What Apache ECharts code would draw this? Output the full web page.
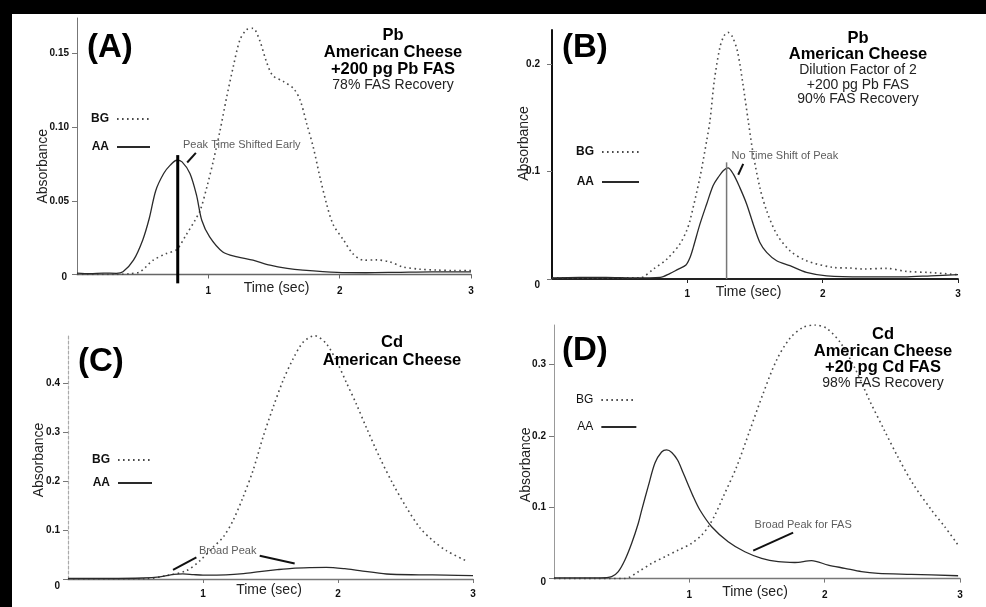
<!DOCTYPE html>
<html><head><meta charset="utf-8">
<script src="https://cdn.jsdelivr.net/npm/echarts@6/dist/echarts.min.js"></script>
<style>html,body{margin:0;padding:0;background:#fff;overflow:hidden}#c{width:986px;height:607px}</style>
</head><body><div id="c"></div>
<script>
const FONT = '"Liberation Sans", Arial, Helvetica, sans-serif';

// ---------- Panel A : Pb, American Cheese, +200 pg Pb FAS ----------
const timeA_BG = [0, 0.3, 0.4, 0.48, 0.58, 0.68, 0.76, 0.83, 0.9, 0.94, 0.99, 1.04, 1.09, 1.14, 1.19, 1.24, 1.29, 1.34, 1.39, 1.44, 1.49, 1.57, 1.65, 1.7, 1.75, 1.8, 1.85, 1.9, 1.95, 2.03, 2.1, 2.18, 2.28, 2.38, 2.48, 2.61, 2.74, 2.87, 3.0];
const absA_BG  = [0, 0, 0.0005, 0.0018, 0.0097, 0.0142, 0.017, 0.0267, 0.037, 0.044, 0.0597, 0.0778, 0.098, 0.1205, 0.141, 0.159, 0.166, 0.167, 0.159, 0.145, 0.135, 0.131, 0.126, 0.118, 0.102, 0.086, 0.066, 0.048, 0.034, 0.0233, 0.0142, 0.0097, 0.0099, 0.0086, 0.0052, 0.0036, 0.003, 0.0027, 0.0027];
const timeA_AA = [0, 0.1, 0.2, 0.3, 0.35, 0.43, 0.5, 0.55, 0.6, 0.66, 0.71, 0.76, 0.8, 0.86, 0.91, 0.95, 1.01, 1.11, 1.22, 1.34, 1.47, 1.6, 1.72, 1.98, 2.2, 2.45, 2.7, 3.0];
const absA_AA  = [0.001, 0.0006, 0.001, 0.0008, 0.0018, 0.0097, 0.0233, 0.038, 0.057, 0.0685, 0.0742, 0.0775, 0.0764, 0.0685, 0.0538, 0.0368, 0.0255, 0.0153, 0.012, 0.0097, 0.0063, 0.0041, 0.0029, 0.0014, 0.0012, 0.0015, 0.0018, 0.0018];
const markerA  = [[0.767, 0.081], [0.767, -0.006]];
const pointerA = [[[0.839, 0.076], [0.905, 0.0825]]];
const noteA    = {text: 'Peak Time Shifted Early', at: [1.255, 0.0877]};
const yTicksA  = [0, 0.05, 0.10, 0.15];
const yLabelsA = ['0', '0.05', '0.10', '0.15'];
const titleA   = [['Pb', 'bold'], ['American Cheese', 'bold'], ['+200 pg Pb FAS', 'bold'], ['78% FAS Recovery', 'normal']];

// ---------- Panel B : Pb, dilution factor 2 ----------
const timeB_BG = [0, 0.3, 0.5, 0.65, 0.75, 0.85, 0.945, 0.995, 1.019, 1.093, 1.143, 1.167, 1.2, 1.24, 1.27, 1.30, 1.33, 1.37, 1.41, 1.45, 1.487, 1.536, 1.586, 1.66, 1.758, 1.88, 2.078, 2.2, 2.3, 2.47, 2.62, 2.79, 3.0];
const absB_BG  = [0.001, 0.001, 0.001, 0.001, 0.0093, 0.0186, 0.0326, 0.045, 0.054, 0.0945, 0.1287, 0.147, 0.185, 0.215, 0.226, 0.2294, 0.226, 0.212, 0.182, 0.147, 0.116, 0.085, 0.0635, 0.0419, 0.0263, 0.017, 0.0108, 0.0102, 0.0093, 0.0099, 0.0071, 0.006, 0.004];
const timeB_AA = [0, 0.2, 0.4, 0.6, 0.8, 0.87, 0.93, 0.99, 1.02, 1.044, 1.093, 1.143, 1.19, 1.228, 1.265, 1.30, 1.339, 1.388, 1.438, 1.487, 1.536, 1.586, 1.66, 1.758, 1.88, 2.03, 2.3, 2.6, 2.8, 3.0];
const absB_AA  = [0.001, 0.0015, 0.0015, 0.001, 0.0015, 0.005, 0.009, 0.013, 0.02, 0.0294, 0.051, 0.0698, 0.0868, 0.0945, 0.1007, 0.1033, 0.0977, 0.085, 0.0698, 0.051, 0.034, 0.0248, 0.017, 0.0124, 0.0062, 0.003, 0.002, 0.002, 0.003, 0.004];
const markerB  = [[1.29, 0.1085], [1.29, 0]];
const pointerB = [[[1.376, 0.097], [1.413, 0.1071]]];
const noteB    = {text: 'No Time Shift of Peak', at: [1.721, 0.1147]};
const yTicksB  = [0, 0.1, 0.2];
const yLabelsB = ['0', '0.1', '0.2'];
const titleB   = [['Pb', 'bold'], ['American Cheese', 'bold'], ['Dilution Factor of 2', 'normal'], ['+200 pg Pb FAS', 'normal'], ['90% FAS Recovery', 'normal']];

// ---------- Panel C : Cd, American Cheese ----------
const timeC_BG = [0, 0.3, 0.556, 0.729, 0.877, 0.976, 1.074, 1.148, 1.222, 1.296, 1.37, 1.444, 1.519, 1.593, 1.667, 1.741, 1.827, 1.914, 1.988, 2.062, 2.136, 2.21, 2.309, 2.407, 2.507, 2.605, 2.704, 2.803, 2.95];
const absC_BG  = [0, 0, 0, 0.0068, 0.017, 0.037, 0.0646, 0.085, 0.119, 0.1666, 0.221, 0.289, 0.35, 0.405, 0.449, 0.483, 0.4966, 0.48, 0.4455, 0.401, 0.357, 0.309, 0.248, 0.194, 0.146, 0.105, 0.078, 0.0578, 0.037];
const timeC_AA = [0, 0.3, 0.556, 0.68, 0.78, 0.85, 0.93, 1.0, 1.17, 1.3, 1.42, 1.55, 1.66, 1.8, 1.914, 2.05, 2.16, 2.36, 2.6, 2.8, 3.0];
const absC_AA  = [0.001, 0.001, 0.002, 0.0045, 0.0095, 0.0105, 0.009, 0.008, 0.0085, 0.011, 0.015, 0.019, 0.0218, 0.0232, 0.0237, 0.021, 0.017, 0.0102, 0.0085, 0.008, 0.007];
const pointerC = [[[0.778, 0.0184], [0.951, 0.044]], [[1.42, 0.0476], [1.679, 0.0318]]];
const noteC    = {text: 'Broad Peak', at: [1.183, 0.0563]};
const yTicksC  = [0, 0.1, 0.2, 0.3, 0.4];
const yLabelsC = ['0', '0.1', '0.2', '0.3', '0.4'];
const titleC   = [['Cd', 'bold'], ['American Cheese', 'bold']];

// ---------- Panel D : Cd, American Cheese, +20 pg Cd FAS ----------
const timeD_BG = [0, 0.3, 0.524, 0.623, 0.722, 0.82, 0.918, 1.017, 1.091, 1.14, 1.189, 1.251, 1.35, 1.448, 1.546, 1.645, 1.743, 1.841, 1.928, 2.014, 2.12, 2.23, 2.33, 2.44, 2.54, 2.65, 2.789, 2.887, 2.986];
const absD_BG  = [0, 0, 0, 0.0097, 0.0214, 0.0307, 0.040, 0.0495, 0.061, 0.0728, 0.089, 0.115, 0.157, 0.2084, 0.26, 0.3066, 0.337, 0.3525, 0.3557, 0.351, 0.33, 0.2926, 0.2505, 0.2084, 0.171, 0.1337, 0.0962, 0.0728, 0.047];
const timeD_AA = [0, 0.2, 0.34, 0.426, 0.475, 0.524, 0.574, 0.623, 0.648, 0.697, 0.746, 0.795, 0.832, 0.87, 0.914, 0.955, 1.029, 1.078, 1.165, 1.287, 1.41, 1.534, 1.657, 1.78, 1.903, 2.026, 2.149, 2.272, 2.395, 2.64, 2.986];
const absD_AA  = [0.001, 0.001, 0.001, 0.0027, 0.0097, 0.026, 0.0495, 0.0776, 0.096, 0.13, 0.162, 0.1775, 0.1805, 0.177, 0.166, 0.148, 0.115, 0.0962, 0.0728, 0.0518, 0.0377, 0.0285, 0.0237, 0.0226, 0.0251, 0.019, 0.0144, 0.0097, 0.0074, 0.006, 0.004];
const pointerD = [[[1.472, 0.0393], [1.767, 0.0646]]];
const noteD    = {text: 'Broad Peak for FAS', at: [1.841, 0.0747]};
const yTicksD  = [0, 0.1, 0.2, 0.3];
const yLabelsD = ['0', '0.1', '0.2', '0.3'];
const titleD   = [['Cd', 'bold'], ['American Cheese', 'bold'], ['+20 pg Cd FAS', 'bold'], ['98% FAS Recovery', 'normal']];

// shared axis ticks
const xTicks = [1, 2, 3];
const xLabels = ['1', '2', '3'];
const seriesNames = ['BG', 'AA'];

// ---------- layout / style per panel ----------
const panels = [
  {letter: '(A)', grid: {left: 77, top: 18, width: 394, height: 256.5}, yMax: 0.174,
   bg: [timeA_BG, absA_BG], aa: [timeA_AA, absA_AA], marker: markerA, markerStyle: {color: '#000', width: 3},
   pointers: pointerA, note: noteA, yTicks: yTicksA, yLabels: yLabelsA, title: titleA,
   titleX: 393, titleY: [35, 52.5, 69, 85], letterPos: [87, 50], zeroPad: [5, 2, 0, 0],
   yAxisLine: {color: '#777', width: 1}, xAxisLine: {color: '#666', width: 1.3},
   yLabelMargin: 8, xLabelMargin: 12, yNameGap: 27, yNamePad: [0, 40, 0, 0], xNameGap: 7, xNamePad: [0, 0, 0, 5],
   legend: {left: 91, top: 113, itemGap: 16, itemWidth: 33, weight: 'bold'}},
  {letter: '(B)', grid: {left: 552, top: 30, width: 406, height: 249}, yMax: 0.2316,
   bg: [timeB_BG, absB_BG], aa: [timeB_AA, absB_AA], marker: markerB, markerStyle: {color: '#777', width: 1.5},
   pointers: pointerB, note: noteB, yTicks: yTicksB, yLabels: yLabelsB, title: titleB,
   titleX: 858, titleY: [38, 54.5, 70.5, 85, 99.5], letterPos: [562, 50], zeroPad: [13, 0, 0, 0],
   yAxisLine: {color: '#111', width: 2}, xAxisLine: {color: '#222', width: 1.8},
   yLabelMargin: 12, xLabelMargin: 10, yNameGap: 21, yNamePad: [0, 0, 0, 22], xNameGap: 6, xNamePad: [0, 13, 0, 0],
   legend: {left: 576, top: 146, itemGap: 18, itemWidth: 37, weight: 'bold'}},
  {letter: '(C)', grid: {left: 68, top: 334, width: 405, height: 245}, yMax: 0.5,
   bg: [timeC_BG, absC_BG], aa: [timeC_AA, absC_AA], marker: null,
   pointers: pointerC, note: noteC, yTicks: yTicksC, yLabels: yLabelsC, title: titleC,
   titleX: 392, titleY: [342.5, 360], letterPos: [78, 364], zeroPad: [14, 0, 0, 0],
   yAxisLine: {color: '#aaa', width: 1.2, type: [3, 2]}, xAxisLine: {color: '#777', width: 1.3},
   yLabelMargin: 8, xLabelMargin: 10, yNameGap: 22, yNamePad: [0, 7, 0, 0], xNameGap: 4, xNamePad: [0, 3, 0, 0],
   legend: {left: 92, top: 454, itemGap: 11, itemWidth: 34, weight: 'bold'}},
  {letter: '(D)', grid: {left: 554, top: 325, width: 406, height: 253.6}, yMax: 0.3557,
   bg: [timeD_BG, absD_BG], aa: [timeD_AA, absD_AA], marker: null,
   pointers: pointerD, note: noteD, yTicks: yTicksD, yLabels: yLabelsD, title: titleD,
   titleX: 883, titleY: [334.5, 351, 367.5, 383.5], letterPos: [562, 353], zeroPad: [8, 0, 0, 0],
   yAxisLine: {color: '#999', width: 1}, xAxisLine: {color: '#777', width: 1.3},
   yLabelMargin: 8, xLabelMargin: 12, yNameGap: 21, yNamePad: [0, 26, 0, 0], xNameGap: 7, xNamePad: [0, 4, 0, 0],
   legend: {left: 576, top: 394, itemGap: 15, itemWidth: 35, weight: 'normal'}}
];

const zip = (t, v) => t.map((x, i) => [x, v[i]]);

const grids = [], xAxes = [], yAxes = [], series = [], legends = [], graphics = [];

// frame (black border at top and left of the original figure)
graphics.push({type: 'rect', shape: {x: 0, y: 0, width: 986, height: 14}, style: {fill: '#000'}, z: 100});
graphics.push({type: 'rect', shape: {x: 0, y: 0, width: 12, height: 607}, style: {fill: '#000'}, z: 100});

panels.forEach((p, i) => {
  grids.push(Object.assign({containLabel: false, outerBoundsMode: 'none'}, p.grid));
  xAxes.push({
    type: 'value', gridIndex: i, min: 0, max: 3, interval: 1,
    name: 'Time (sec)', nameLocation: 'middle', nameGap: p.xNameGap, nameMoveOverlap: false,
    nameTextStyle: {fontFamily: FONT, fontSize: 14, color: '#222', padding: p.xNamePad, verticalAlign: 'top'},
    axisLine: {show: true, onZero: false, lineStyle: p.xAxisLine},
    axisTick: {show: true, length: 4, customValues: xTicks, lineStyle: {color: p.xAxisLine.color, width: 1}},
    axisLabel: {customValues: xTicks, margin: p.xLabelMargin, fontFamily: FONT, fontSize: 10, fontWeight: 'bold', color: '#111',
      formatter: v => { const k = xTicks.indexOf(Math.round(v * 1000) / 1000); return k >= 0 ? xLabels[k] : ''; }},
    splitLine: {show: false}
  });
  yAxes.push({
    type: 'value', gridIndex: i, min: 0, max: p.yMax, interval: p.yTicks[1],
    name: 'Absorbance', nameLocation: 'middle', nameGap: p.yNameGap, nameRotate: 90, nameMoveOverlap: false,
    nameTextStyle: {fontFamily: FONT, fontSize: 14, color: '#222', padding: p.yNamePad},
    axisLine: {show: true, onZero: false, lineStyle: p.yAxisLine},
    axisTick: {show: true, length: 5, customValues: p.yTicks, lineStyle: {color: '#777', width: 1}},
    axisLabel: {customValues: p.yTicks, margin: p.yLabelMargin, fontFamily: FONT, fontSize: 10, fontWeight: 'bold', color: '#111',
      rich: {z: {fontFamily: FONT, fontSize: 10, fontWeight: 'bold', color: '#111', padding: p.zeroPad}},
      formatter: v => {
        const k = p.yTicks.findIndex(t => Math.abs(t - v) < 1e-6);
        if (k < 0) return '';
        return k === 0 ? '{z|' + p.yLabels[0] + '}' : p.yLabels[k];
      }},
    splitLine: {show: false}
  });

  series.push({
    name: 'BG', type: 'line', xAxisIndex: i, yAxisIndex: i, data: zip(p.bg[0], p.bg[1]),
    smooth: 0.3, symbol: 'none', silent: true, z: 3,
    itemStyle: {color: '#4a4a4a'},
    lineStyle: {color: '#4a4a4a', width: 1.6, type: [1.6, 3.4]}
  });
  series.push({
    name: 'AA', type: 'line', xAxisIndex: i, yAxisIndex: i, data: zip(p.aa[0], p.aa[1]),
    smooth: 0.3, symbol: 'none', silent: true, z: 4,
    itemStyle: {color: '#2a2a2a'},
    lineStyle: {color: '#2a2a2a', width: 1.3}
  });
  if (p.marker) {
    series.push({
      name: 'peak-marker', type: 'line', xAxisIndex: i, yAxisIndex: i, data: p.marker,
      symbol: 'none', silent: true, clip: false, z: 5, lineStyle: {color: p.markerStyle.color, width: p.markerStyle.width}
    });
  }
  p.pointers.forEach(seg => {
    series.push({
      name: 'pointer', type: 'line', xAxisIndex: i, yAxisIndex: i, data: seg,
      symbol: 'none', silent: true, clip: false, z: 5, lineStyle: {color: '#111', width: 2}
    });
  });
  series.push({
    name: 'note', type: 'scatter', xAxisIndex: i, yAxisIndex: i, data: [p.note.at],
    symbolSize: 1, itemStyle: {color: 'rgba(0,0,0,0)'}, silent: true, z: 6,
    label: {show: true, position: 'inside', formatter: p.note.text, fontFamily: FONT, fontSize: 11, color: '#333'}
  });

  legends.push({
    data: seriesNames, orient: 'vertical', left: p.legend.left, top: p.legend.top,
    itemWidth: p.legend.itemWidth, itemHeight: 10, itemGap: p.legend.itemGap, align: 'right',
    padding: 0, selectedMode: false,
    itemStyle: {opacity: 0, borderWidth: 0},
    textStyle: {fontFamily: FONT, fontSize: 12, fontWeight: p.legend.weight, color: '#111', padding: [0, 3, 0, 0]}
  });

  // panel letter
  graphics.push({type: 'text', left: p.letterPos[0], top: p.letterPos[1] - 19, z: 50,
    style: {text: p.letter, font: 'bold 33px ' + FONT, fill: '#000'}});
  // title block
  p.title.forEach((ln, k) => {
    const bold = ln[1] === 'bold';
    graphics.push({type: 'text', x: p.titleX, y: p.titleY[k], z: 50,
      style: {text: ln[0], x: 0, y: 0, font: (bold ? 'bold 16.5px ' : '14px ') + FONT,
        fill: bold ? '#000' : '#222', textAlign: 'center', textVerticalAlign: 'middle', align: 'center', verticalAlign: 'middle'}});
  });
});

const chart = echarts.init(document.getElementById('c'), null, {renderer: 'canvas'});
chart.setOption({
  backgroundColor: '#fff',
  animation: false,
  textStyle: {fontFamily: FONT},
  grid: grids, xAxis: xAxes, yAxis: yAxes, series: series, legend: legends, graphic: graphics
});
</script>
</body></html>
